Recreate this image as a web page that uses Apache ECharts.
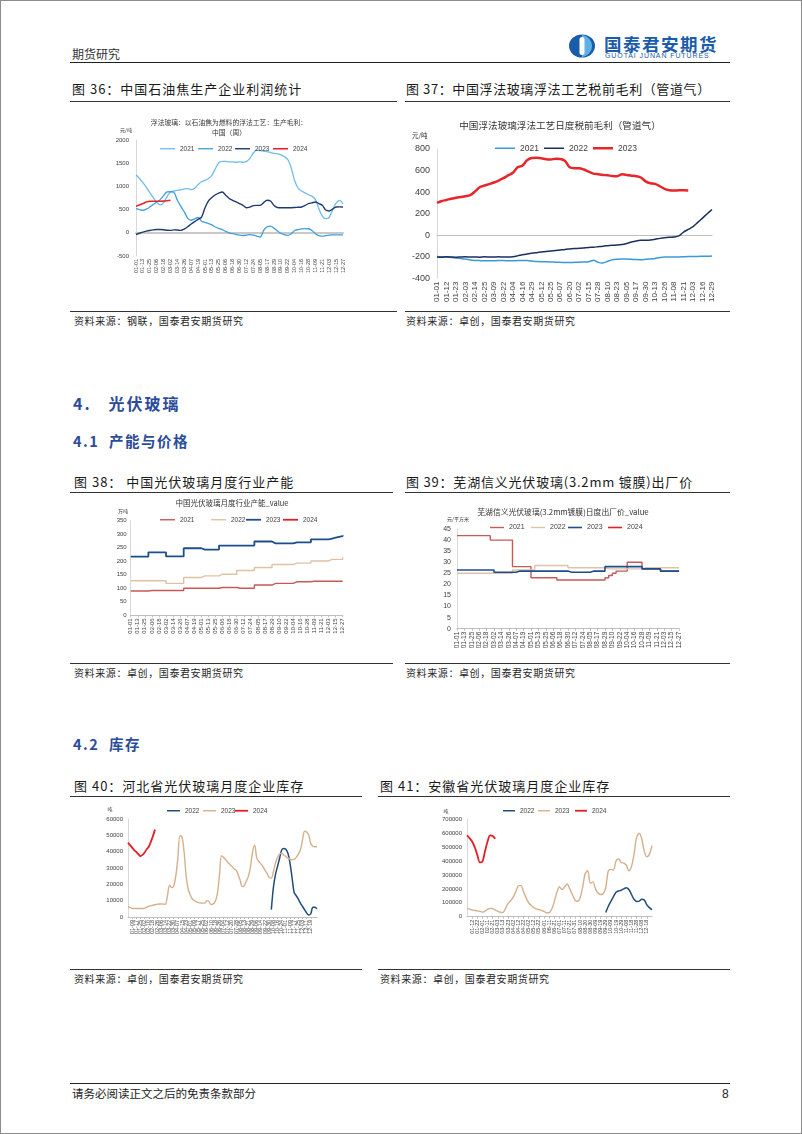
<!DOCTYPE html>
<html><head><meta charset="utf-8">
<script src="https://cdn.jsdelivr.net/npm/echarts@6/dist/echarts.min.js"></script>
<style>
html,body{margin:0;padding:0;background:#fff;}
#page{position:relative;width:802px;height:1134px;overflow:hidden;font-family:"Noto Sans CJK SC","Liberation Sans",sans-serif;color:#1a1a1a;background:#fff;}
#frame{position:absolute;left:0;top:0;width:800px;height:1132px;border:1px solid #8c8c8c;pointer-events:none;}
.t{position:absolute;white-space:nowrap;line-height:1;}
.ln{position:absolute;height:0;border-top:1px solid #333;}
.c{position:absolute;}
.ttl{font-size:13px;letter-spacing:1px;color:#1a1a1a;}
.src{font-size:10px;letter-spacing:0.6px;color:#262626;}
.h{color:#2b4c9b;font-weight:bold;}
</style></head><body><div id="page">
<div id="frame"></div>

<div class="t" style="left:72px;top:48px;font-size:12px;color:#333;">期货研究</div>
<svg class="c" style="left:567px;top:34px;" width="34" height="24" viewBox="0 0 34 24">
  <ellipse cx="15" cy="12" rx="13" ry="11.5" fill="#1b5caa"/>
  <path d="M15 0.8 A13 11.5 0 0 1 15 23.2 Z" fill="#5fb0e6"/>
  <rect x="12.5" y="3" width="5" height="18" rx="2.5" fill="#fff"/>
</svg>
<div class="t" style="left:604px;top:35px;font-size:17.5px;font-weight:bold;color:#1b5caa;letter-spacing:1.5px;">国泰君安期货</div>
<div class="t" style="left:605px;top:52px;font-size:7px;color:#1b5caa;letter-spacing:0.9px;font-family:'Liberation Sans',sans-serif;">GUOTAI JUNAN FUTURES</div>
<div class="ln" style="left:70px;top:61.5px;width:660px;border-top:1.5px solid #222;"></div>

<div class="t ttl" style="left:72px;top:81.5px;">图 36：中国石油焦生产企业利润统计</div>
<div class="t ttl" style="left:406px;top:81.5px;letter-spacing:0.6px;">图 37：中国浮法玻璃浮法工艺税前毛利（管道气）</div>
<div class="ln" style="left:70px;top:100.5px;width:327px;"></div>
<div class="ln" style="left:405px;top:100.5px;width:325px;"></div>
<div class="c" id="c36" style="left:70px;top:105px;width:330px;height:200px;"></div>
<div class="c" id="c37" style="left:402px;top:105px;width:328px;height:200px;"></div>
<div class="ln" style="left:70px;top:310.5px;width:327px;"></div>
<div class="ln" style="left:405px;top:310.5px;width:325px;"></div>
<div class="t src" style="left:74px;top:316px;">资料来源：钢联，国泰君安期货研究</div>
<div class="t src" style="left:406px;top:316px;">资料来源：卓创，国泰君安期货研究</div>

<div class="t h" style="left:73px;top:395px;font-size:16px;letter-spacing:2px;">4.&nbsp;&nbsp;&nbsp;光伏玻璃</div>
<div class="t h" style="left:73px;top:434px;font-size:14.5px;letter-spacing:1.5px;">4.1&nbsp;&nbsp;产能与价格</div>

<div class="t ttl" style="left:74px;top:474.5px;">图 38：&nbsp;中国光伏玻璃月度行业产能</div>
<div class="t ttl" style="left:406px;top:474.5px;letter-spacing:0.8px;">图 39：芜湖信义光伏玻璃(3.2mm 镀膜)出厂价</div>
<div class="ln" style="left:70px;top:491.5px;width:323px;"></div>
<div class="ln" style="left:405px;top:491.5px;width:325px;"></div>
<div class="c" id="c38" style="left:70px;top:495px;width:320px;height:165px;"></div>
<div class="c" id="c39" style="left:402px;top:495px;width:328px;height:165px;"></div>
<div class="ln" style="left:70px;top:662.5px;width:323px;"></div>
<div class="ln" style="left:405px;top:662.5px;width:325px;"></div>
<div class="t src" style="left:74px;top:668px;">资料来源：卓创，国泰君安期货研究</div>
<div class="t src" style="left:406px;top:668px;">资料来源：卓创，国泰君安期货研究</div>

<div class="t h" style="left:73px;top:737px;font-size:14.5px;letter-spacing:1.5px;">4.2&nbsp;&nbsp;库存</div>

<div class="t ttl" style="left:74px;top:778.5px;">图 40：河北省光伏玻璃月度企业库存</div>
<div class="t ttl" style="left:380px;top:778.5px;">图 41：安徽省光伏玻璃月度企业库存</div>
<div class="ln" style="left:70px;top:796px;width:292px;"></div>
<div class="ln" style="left:378px;top:796px;width:352px;"></div>
<div class="c" id="c40" style="left:70px;top:800px;width:300px;height:165px;"></div>
<div class="c" id="c41" style="left:378px;top:800px;width:352px;height:165px;"></div>
<div class="ln" style="left:70px;top:969px;width:292px;"></div>
<div class="ln" style="left:378px;top:969px;width:352px;"></div>
<div class="t src" style="left:74px;top:974px;">资料来源：卓创，国泰君安期货研究</div>
<div class="t src" style="left:380px;top:974px;">资料来源：卓创，国泰君安期货研究</div>

<div class="ln" style="left:70px;top:1083px;width:660px;border-top:1.2px solid #222;"></div>
<div class="t" style="left:72px;top:1088px;font-size:11.5px;color:#222;">请务必阅读正文之后的免责条款部分</div>
<div class="t" style="left:722px;top:1088px;font-size:12px;color:#222;font-family:'Liberation Sans',sans-serif;">8</div>
</div>

<script>
// ---------- date helpers (category labels) ----------
function fromDay(n){const d=new Date(Date.UTC(2023,0,1)+n*864e5);return String(d.getUTCMonth()+1).padStart(2,'0')+'-'+String(d.getUTCDate()).padStart(2,'0');}
function toDay(s){const p=s.split('-').map(Number);return Math.round((Date.UTC(2023,p[0]-1,p[1])-Date.UTC(2023,0,1))/864e5);}
function dateAxis(start,step,count){const a=[];for(let k=0;k<count;k++)a.push(fromDay(start+k*step));return a;}

// ---------- chart 36 ----------
const cats36 = dateAxis(0,6,61);
const s36_2021 = [1250,1170,1080,980,870,760,660,600,650,780,880,900,915,925,945,950,930,960,1040,1100,1130,1170,1240,1380,1510,1540,1540,1530,1530,1520,1530,1520,1540,1600,1720,1780,1770,1760,1750,1730,1710,1700,1680,1640,1580,1400,1120,960,900,860,820,790,720,520,360,305,330,500,640,700,630];
const s36_2022 = [520,500,485,510,556,610,664,715,800,880,885,870,700,570,450,310,270,300,330,250,225,200,170,125,95,70,30,0,-20,-36,-50,-58,-50,-40,-50,-70,-90,50,130,145,100,40,-10,-40,-55,-20,50,70,85,88,87,50,-20,-60,-72,-60,-50,-45,-43,-43,-43];
const s36_2023 = [-36,-10,15,35,50,62,72,70,65,55,52,62,60,52,80,130,190,240,290,340,540,690,760,820,855,878,810,740,700,665,630,592,540,555,585,592,592,650,700,686,590,545,541,541,541,541,545,550,556,590,628,645,664,630,592,490,470,510,556,558,556];
const s36_2024 = [570,600,630,665,680,680,680,680,685,690,700];

// ---------- chart 37 ----------
const labels37 = ['01-01','01-12','01-23','02-03','02-14','02-25','03-09','03-22','04-04','04-16','04-29','05-12','05-25','06-07','06-20','07-02','07-15','07-28','08-10','08-23','09-05','09-17','09-30','10-13','10-26','11-08','11-21','12-03','12-16','12-29'];
const cats37 = [];
labels37.forEach((l,k)=>{cats37.push(l); if(k<labels37.length-1) cats37.push(fromDay(Math.round((toDay(l)+toDay(labels37[k+1]))/2)));});
const s37_2021 = [-195,-198,-200,-205,-210,-215,-220,-228,-232,-234,-236,-236,-235,-234,-234,-236,-236,-234,-232,-234,-238,-242,-244,-245,-246,-248,-250,-252,-252,-250,-248,-246,-244,-230,-250,-255,-240,-225,-222,-220,-220,-222,-224,-225,-222,-218,-214,-205,-200,-200,-200,-200,-198,-196,-195,-195,-194,-193,-192];
const s37_2022 = [-200,-202,-198,-200,-203,-200,-198,-201,-200,-202,-199,-200,-201,-199,-200,-200,-198,-190,-180,-172,-165,-160,-155,-150,-145,-140,-135,-130,-126,-122,-120,-116,-112,-110,-105,-100,-96,-92,-90,-85,-75,-62,-52,-46,-45,-42,-36,-28,-22,-18,-15,-5,30,55,80,120,160,200,240];
const s37_2023 = [300,318,328,340,348,355,362,372,405,445,462,475,490,508,530,555,580,630,645,695,716,718,714,705,702,710,708,690,630,622,622,610,590,572,566,560,556,550,548,565,560,553,548,536,500,482,477,455,430,418,415,417,418,416];

// ---------- chart 38 ----------
const cats38 = dateAxis(0,6,61);
const s38_2021 = [90,90,90,90,90, 92,92,92,92,92,92,92,92,92,92, 100,100,100,100,100,100,100,100,100,100, 103,103,103,103,103, 100,100,100,100,100, 112,112,112,112,112, 118,118,118,118,118,118, 124,124,124,124,124, 126,126,126,126,126,126,126,126,126,126];
const s38_2022 = [128,128,128,128,128,128,128,128,128,128, 118,118,118,118,118, 140,140,140,140,140, 146,146,146,146,146, 152,152,152,152,152, 166,166,166,166,166, 177,177,177,177,177, 188,188,188,188,188,188, 193,193,193,193,193, 201,201,201,201,201, 207,207,207,207, 215];
const s38_2023 = [217,217,217,217,217, 233,233,233,233,233, 218,218,218,218,218, 248,248,248,248,248, 243,243,243,243,243, 258,258,258,258,258,258,258,258,258,258, 273,273,273,273,273, 266,266,266,266,266,266, 270,270,270,270,270, 281,281,281,281,281, 284,287,290,293,296];
const s38_2024 = [];

// ---------- chart 39 ----------
const cats39 = dateAxis(0,6,61);
const s39_2021 = [42,42,42,42,42,42,42,42,42, 40,40,40,40,40,40, 28,28,28,28,28, 23,23,23,23,23,23,23, 22,22,22,22,22,22,22,22,22,22,22,22,22, 23,24,25,26,26,26, 30,30,30,30, 27,27,27,27,27, 26,26,26,26,26,26];
const s39_2022 = [25,25,25,25,25,25,25,25,25,25,25,25,25,25,25, 26.5,26.5,26.5,26.5,26.5,26.5, 28.5,28.5,28.5,28.5,28.5,28.5,28.5,28.5,28.5, 27.5,27.5,27.5,27.5,27.5,27.5,27.5,27.5,27.5,27.5, 27,27,27,27,27,27,27,27,27,27, 27.5,27.5,27.5,27.5,27.5,27.5,27.5,27.5,27.5,27.5,27.5];
const s39_2023 = [26.5,26.5,26.5,26.5,26.5,26.5,26.5,26.5,26.5,26.5, 25.5,25.5,25.5,25.5,25.5,25.5, 26,26,26,26,26,26,26,26,26,26,26,26,26,26, 25.5,25.5,25.5,25.5,25.5,25.5, 26,26,26,26, 28,28,28,28,28,28,28,28,28,28, 27,27,27,27,27, 26,26,26,26,26,26];
const s39_2024 = [];

// ---------- chart 40 ----------
const cats40 = dateAxis(0,4,92);
const start40_2022 = 69;
const s40_2022 = [4500,18000,26000,31000,36000,41000,42000,41500,39000,33000,24000,15000,13000,11000,8500,6500,4500,2500,1200,2000,6000,6000,5000];
const s40_2023 = [6500,5800,5300,5200,5200,5200,5200,5200,5300,6000,6600,6900,7200,7500,7800,8000,8000,7900,7800,13000,19500,18000,19000,25000,36000,50000,49000,40000,25000,17000,13500,11000,10000,9300,8800,8600,8500,8500,10000,9500,7600,8000,9500,14000,25000,37500,36500,35200,33500,32200,31000,29500,28800,26000,22500,18600,19300,22000,25000,31000,40000,44000,36000,34000,32500,30800,28500,26700,24000,23800,27700,33000,36500,38500,39000,38000,37000,36000,35500,35000,35200,36500,38500,41000,47000,52500,52000,50200,45000,43300,43000,43000];
const s40_2024 = [45500,44000,42500,41000,39800,38500,37300,38000,39500,41500,43000,46000,49500,53500];

// ---------- chart 41 ----------
const cats41 = dateAxis(1,5,73);
const start41_2022 = 54;
const s41_2022 = [30000,75000,110000,145000,175000,185000,190000,200000,208000,195000,160000,125000,110000,112000,125000,120000,85000,65000,50000];
const s41_2023 = [62000,55000,48000,45000,42000,38000,33000,40000,52000,60000,58000,48000,38000,32000,30000,60000,95000,115000,140000,180000,222000,225000,180000,135000,100000,80000,65000,56000,52000,45000,38000,28000,30000,55000,110000,175000,215000,195000,215000,235000,200000,160000,120000,110000,135000,210000,310000,330000,240000,250000,200000,170000,160000,165000,210000,330000,340000,335000,400000,415000,390000,385000,370000,330000,360000,450000,570000,600000,560000,470000,430000,450000,510000];
const s41_2024 = [585000,565000,540000,500000,445000,390000,395000,470000,540000,585000,580000,560000];

// ---------- builder ----------
const AX='#404040', CJK='Noto Sans CJK SC';
function offset(cats,start,vals){return vals.map((v,k)=>[cats[start+k],v]);}
function mk(id,o){
  const ch=echarts.init(document.getElementById(id),null,{renderer:'canvas'});
  const legend=o.series.map(s=>({data:[s.name],left:s.leg,top:o.legY-o.legFs/2-0.5,padding:0,icon:'rect',itemWidth:o.legW,itemHeight:Math.max(1.2,s.w),itemGap:0,selectedMode:false,
    textStyle:{fontSize:o.legFs,color:AX,fontFamily:'Liberation Sans'}}));
  const graphic=(o.texts||[]).map(t=>({type:'text',x:t.x,y:t.y,silent:true,style:{text:t.s,fontSize:t.fs,fill:t.c||'#333',fontFamily:CJK,align:t.al||'left',verticalAlign:'middle'}}));
  ch.setOption({
    animation:false,
    textStyle:{fontFamily:'Liberation Sans'},
    legend:legend,
    graphic:graphic,
    grid:{left:o.grid[0],right:o.grid[1],top:o.grid[2],bottom:o.grid[3],containLabel:false},
    xAxis:{type:'category',data:o.cats,boundaryGap:false,
      axisLine:{onZero:true,lineStyle:{color:o.xLineC||'#bfbfbf',width:o.xLineW||1.2}},
      axisTick:{show:!!o.ticks,interval:1,length:2,lineStyle:{color:'#bfbfbf'}},
      axisLabel:{rotate:90,interval:1,fontSize:o.xFs,color:AX,margin:o.xMargin||3}},
    yAxis:{type:'value',min:o.y[0],max:o.y[1],interval:o.y[2],splitLine:{show:false},
      axisLine:{show:true,lineStyle:{color:'#d9d9d9'}},axisTick:{show:false},
      axisLabel:{fontSize:o.yFs,color:AX,margin:o.yMargin,formatter:v=>String(v)}},
    series:o.series.map(s=>({type:'line',name:s.name,data:s.data,symbol:'none',smooth:s.smooth||false,step:s.step||false,
      lineStyle:{color:s.color,width:s.w},itemStyle:{color:s.color},connectNulls:false}))
  });
}

mk('c36',{cats:cats36,grid:[66,57,35,49],y:[-500,2000,500],xFs:5.5,yFs:6,yMargin:7,legY:44,legW:15,legFs:6.5,xLineW:2,xLineC:'#c9c9c9',
  texts:[{x:159,y:17,s:'浮法玻璃：以石油焦为燃料的浮法工艺：生产毛利：',fs:6.8,al:'center'},{x:159,y:27,s:'中国（周）',fs:6.8,al:'center'},{x:50,y:25,s:'元/吨',fs:5,al:'left'}],
  series:[{name:'2021',data:s36_2021,color:'#6cbde9',w:1.3,smooth:0.3,leg:90},
          {name:'2022',data:s36_2022,color:'#3f9fdc',w:1.3,smooth:0.3,leg:128},
          {name:'2023',data:s36_2023,color:'#1e3a6e',w:1.4,smooth:0.3,leg:165},
          {name:'2024',data:s36_2024,color:'#e8262a',w:1.6,smooth:0.3,leg:203}]});

mk('c37',{cats:cats37,grid:[35,18,44,8.3],y:[-400,800,200],xFs:8,yFs:9,yMargin:7,legY:43.5,legW:20,legFs:8.5,xLineW:1.2,
  texts:[{x:158,y:20,s:'中国浮法玻璃浮法工艺日度税前毛利（管道气）',fs:9.6,al:'center'},{x:10,y:31,s:'元/吨',fs:6.5,al:'left'}],
  series:[{name:'2021',data:s37_2021,color:'#3a9ad9',w:1.5,smooth:0.3,leg:93},
          {name:'2022',data:s37_2022,color:'#1b2f5e',w:1.5,smooth:0.3,leg:142},
          {name:'2023',data:s37_2023,color:'#e8262a',w:2.5,smooth:0.3,leg:191}]});

mk('c38',{cats:cats38,grid:[60.7,47.3,25.7,44.7],y:[0,350,50],xFs:6,yFs:6,yMargin:4,legY:25,legW:15,legFs:6.5,ticks:true,
  texts:[{x:162,y:8,s:'中国光伏玻璃月度行业产能_value',fs:7.5,al:'center'},{x:53,y:16,s:'万吨',fs:5,al:'center'}],
  series:[{name:'2021',data:s38_2021,color:'#c65a57',w:1.4,step:'end',leg:90},
          {name:'2022',data:s38_2022,color:'#dfc2a6',w:1.4,step:'end',leg:141},
          {name:'2023',data:s38_2023,color:'#1f4e8c',w:1.8,step:'end',leg:176},
          {name:'2024',data:s38_2024,color:'#e41e26',w:1.8,leg:213}]});

mk('c39',{cats:cats39,grid:[55,51,34,31.3],y:[0,45,5],xFs:6.5,yFs:7,yMargin:6,legY:33,legW:14,legFs:7,ticks:true,
  texts:[{x:161,y:17,s:'芜湖信义光伏玻璃(3.2mm镀膜)日度出厂价_value',fs:7.8,al:'center'},{x:56,y:24.5,s:'元/平方米',fs:5,al:'center'}],
  series:[{name:'2021',data:s39_2021,color:'#c65a57',w:1.4,step:'end',leg:88},
          {name:'2022',data:s39_2022,color:'#dfc2a6',w:1.4,step:'end',leg:129},
          {name:'2023',data:s39_2023,color:'#1f4e8c',w:1.6,step:'end',leg:166},
          {name:'2024',data:s39_2024,color:'#e41e26',w:1.6,leg:206}]});

mk('c40',{cats:cats40,grid:[58,53,19,48],y:[0,60000,10000],xFs:5.5,yFs:6,yMargin:5,legY:11,legW:13,legFs:6.5,ticks:true,
  texts:[{x:40,y:9,s:'吨',fs:5,al:'center'}],
  series:[{name:'2022',data:offset(cats40,start40_2022,s40_2022),color:'#1f4e79',w:1.5,smooth:0.3,leg:97},
          {name:'2023',data:s40_2023,color:'#d6b08c',w:1.4,smooth:0.3,leg:133},
          {name:'2024',data:s40_2024,color:'#e41e26',w:1.8,smooth:0.3,leg:165}]});

mk('c41',{cats:cats41,grid:[89,78,19.3,48.3],y:[0,700000,100000],xFs:5.5,yFs:6,yMargin:5,legY:11,legW:12,legFs:6.5,ticks:true,
  texts:[{x:68,y:11,s:'吨',fs:5,al:'center'}],
  series:[{name:'2022',data:offset(cats41,start41_2022,s41_2022),color:'#1f4e79',w:1.5,smooth:0.3,leg:125},
          {name:'2023',data:s41_2023,color:'#d6b08c',w:1.4,smooth:0.3,leg:160},
          {name:'2024',data:s41_2024,color:'#e41e26',w:1.8,smooth:0.3,leg:197}]});
</script>
</body></html>
